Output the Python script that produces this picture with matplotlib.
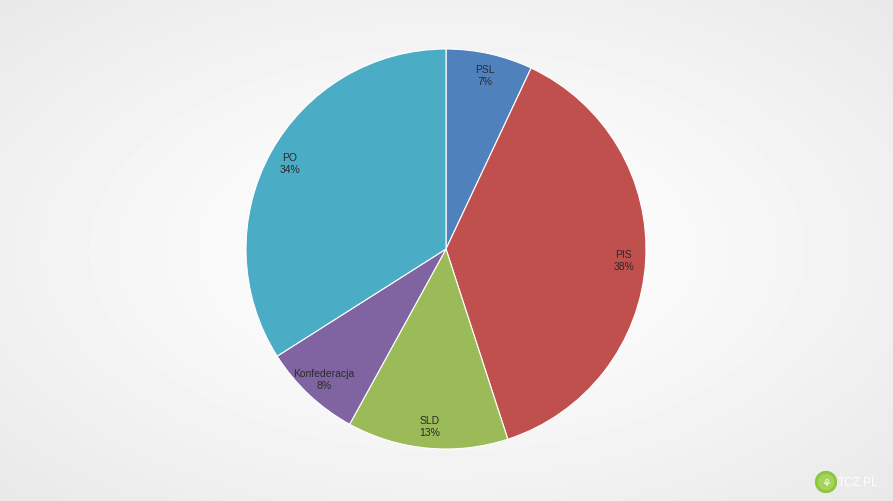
import numpy as np
import matplotlib
matplotlib.use("Agg")
import matplotlib.pyplot as plt

parties = ["PSL", "PIS", "SLD", "Konfederacja", "PO"]
shares = [7, 38, 13, 8, 34]
colors = ["#4F81BD", "#C0504D", "#9BBB59", "#8064A2", "#4BACC6"]

W, H = 893, 502
fig = plt.figure(figsize=(W / 100, H / 100), dpi=100)

# radial grey background
bg = fig.add_axes([0, 0, 1, 1])
yy, xx = np.mgrid[0:H, 0:W]
d = np.sqrt(((xx - W * 0.5) / (W * 0.5)) ** 2 + ((yy - H * 0.5) / (H * 0.5)) ** 2) / np.sqrt(2)
grey = 1.0 - 0.09 * np.clip(d, 0, 1) ** 1.3
bg.imshow(grey, cmap="gray", vmin=0, vmax=1, aspect="auto", interpolation="bilinear")
bg.axis("off")

ax = fig.add_axes([246 / W, 52 / H, 400 / W, 400 / H])
labels = [f"{p}\n{s}%" for p, s in zip(parties, shares)]
wedges, texts = ax.pie(shares, colors=colors, startangle=90, counterclock=False,
                       labels=labels, labeldistance=0.89, radius=1,
                       wedgeprops=dict(edgecolor="white", linewidth=0.8),
                       textprops=dict(fontsize=7.5, color="#2a2a2a",
                                      family="Liberation Sans", ha="center",
                                      va="center", linespacing=1.3))
for t in texts:
    t.set_ha("center")
    t.set_va("center")
ax.set_xlim(-1, 1)
ax.set_ylim(-1, 1)
ax.set_aspect("equal")
ax.axis("off")

# watermark
wm = fig.add_axes([815 / W, 8 / H, 22 / W, 22 / H])
wm.add_patch(plt.Circle((0, 0), 1, color="#8cc63f"))
wm.add_patch(plt.Circle((0, 0), 0.72, color="#a6d45a"))
wm.text(0, -0.05, "\u2698", fontsize=8, color="white", ha="center", va="center",
        family="DejaVu Sans")
wm.set_xlim(-1.05, 1.05)
wm.set_ylim(-1.05, 1.05)
wm.set_aspect("equal")
wm.axis("off")
fig.text(838 / W, 19 / H, "TCZ.PL", fontsize=8.5, color="#ffffff",
         family="Liberation Sans", va="center", ha="left")

fig.savefig("out.png", dpi=100)
